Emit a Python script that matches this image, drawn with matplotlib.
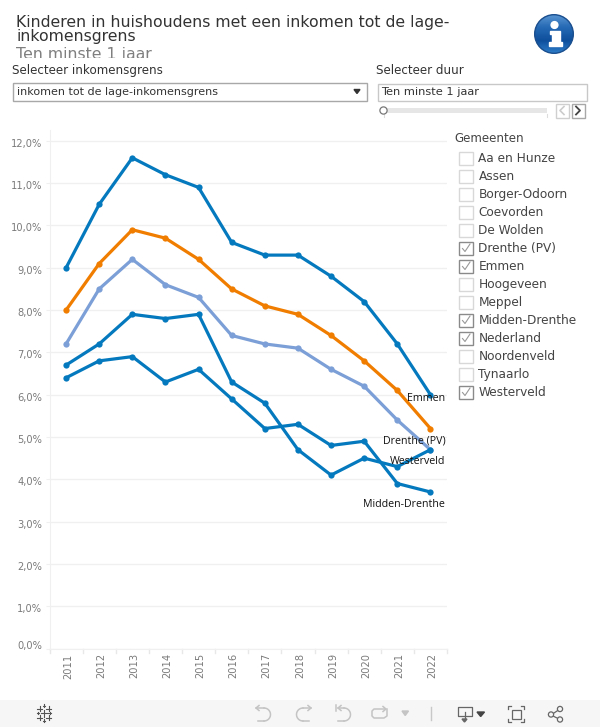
import matplotlib
matplotlib.use("Agg")
import matplotlib.pyplot as plt
from matplotlib.patches import Rectangle, Circle, Polygon
from matplotlib.colors import LinearSegmentedColormap
from matplotlib.transforms import ScaledTranslation
import numpy as np

years = ["2011", "2012", "2013", "2014", "2015", "2016", "2017", "2018", "2019", "2020", "2021", "2022"]
emmen = [9.0, 10.5, 11.6, 11.2, 10.9, 9.6, 9.3, 9.3, 8.8, 8.2, 7.2, 6.0]
drenthe = [8.0, 9.1, 9.9, 9.7, 9.2, 8.5, 8.1, 7.9, 7.4, 6.8, 6.1, 5.2]
nederland = [7.2, 8.5, 9.2, 8.6, 8.3, 7.4, 7.2, 7.1, 6.6, 6.2, 5.4, 4.7]
westerveld = [6.7, 7.2, 7.9, 7.8, 7.9, 6.3, 5.8, 4.7, 4.1, 4.5, 4.3, 4.7]
midden = [6.4, 6.8, 6.9, 6.3, 6.6, 5.9, 5.2, 5.3, 4.8, 4.9, 3.9, 3.7]
yticks = list(range(0, 13))
gemeenten = ["Aa en Hunze", "Assen", "Borger-Odoorn", "Coevorden", "De Wolden", "Drenthe (PV)", "Emmen",
             "Hoogeveen", "Meppel", "Midden-Drenthe", "Nederland", "Noordenveld", "Tynaarlo", "Westerveld"]
aangevinkt = ["Drenthe (PV)", "Emmen", "Midden-Drenthe", "Nederland", "Westerveld"]

W, H = 600, 727
BLAUW = "#0579bd"
ORANJE = "#f07d00"
LICHT = "#7b9fd6"
TEKST = "#333333"
LIJST = "#444444"
GRIJS = "#7a7a7a"

plt.rcParams["font.family"] = ["DejaVu Sans"]
fig = plt.figure(figsize=(W / 100, H / 100), dpi=100, facecolor="white")

# overlay in pixels, top-left origin
ui = fig.add_axes([0, 0, 1, 1])
ui.axis("off")

# main plot
x0, x1, ytop, ybot = 49.5, 447, 130, 648.5
ax = fig.add_axes([x0 / W, 1 - ybot / H, (x1 - x0) / W, (ybot - ytop) / H])
ax.patch.set_alpha(0)
x = np.arange(len(years))
ax.set_xlim(-0.5, 11.5)
ax.set_ylim(0, (ybot - ytop) / 42.3)
ax.set_yticks(yticks)
ax.set_yticklabels(["%d,0%%" % t for t in yticks], fontsize=7.1, color=GRIJS)
ax.set_xticks(x)
ax.set_xticklabels(years, rotation=90, fontsize=7.1, color=GRIJS)
ax.grid(axis="y", color="#f0f0f0", lw=1)
ax.set_axisbelow(True)
ax.tick_params(axis="x", length=0, pad=3.5)
ax.tick_params(axis="y", length=3, color="#f0f0f0", pad=2.4)
for s in ["top", "right"]:
    ax.spines[s].set_visible(False)
ax.spines["left"].set_color("#f0f0f0")
ax.spines["bottom"].set_color("#f0f0f0")
# year band ticks
for i in range(13):
    ax.plot([i - 0.5, i - 0.5], [0, -0.1], color="#e8e8e8", lw=1, clip_on=False)

# nudge labels like the original
for t, lab in zip(yticks, ax.get_yticklabels()):
    dy = 4 if t == 0 else -2
    lab.set_transform(lab.get_transform() + ScaledTranslation(0, dy / 100, fig.dpi_scale_trans))
for lab in ax.get_xticklabels():
    lab.set_transform(lab.get_transform() + ScaledTranslation(2 / 100, 0, fig.dpi_scale_trans))

for serie, kleur in [(nederland, LICHT), (westerveld, BLAUW), (midden, BLAUW), (drenthe, ORANJE), (emmen, BLAUW)]:
    ax.plot(x, serie, color=kleur, lw=2.3, marker="o", ms=4.5, mew=0, solid_joinstyle="round")

ax.text(11.45, 5.92, "Emmen", ha="right", va="center", fontsize=7.7, color="#111111", family="Open Sans")
ax.text(11.45, 4.90, "Drenthe (PV)", ha="right", va="center", fontsize=7.7, color="#111111", family="Open Sans")
ax.text(11.45, 4.43, "Westerveld", ha="right", va="center", fontsize=7.7, color="#111111", family="Open Sans")
ax.text(11.45, 3.41, "Midden-Drenthe", ha="right", va="center", fontsize=7.7, color="#111111", family="Open Sans")

# title block
ui.text(16, 26.5, "Kinderen in huishoudens met een inkomen tot de lage-", fontsize=11.3, color=TEKST, va="baseline")
ui.text(16, 41.5, "inkomensgrens", fontsize=11.3, color=TEKST, va="baseline")
sub = ui.text(16, 59, "Ten minste 1 jaar", fontsize=11.3, color="#7f7f7f", va="baseline")
sub.set_clip_on(True)
sub.set_clip_path(Rectangle((0, 0), W, 58, transform=ui.transData))

# info icon
blauwen = LinearSegmentedColormap.from_list("info", ["#5a96d2", "#2569b4", "#0f4f9c", "#2f7ecb"])
img = ui.imshow(np.linspace(0, 1, 64).reshape(-1, 1), cmap=blauwen, extent=(534, 574, 54, 14), aspect="auto", zorder=2)
img.set_clip_path(Circle((554, 34), 19.5, transform=ui.transData))
ui.add_patch(Circle((554, 34), 19.3, fc="none", ec="#1b4f8e", lw=1, zorder=3))
ui.add_patch(Circle((554.5, 25), 3.4, color="white", zorder=4))
ui.add_patch(Polygon([(550, 31), (559.5, 31), (559.5, 42), (562, 42), (562, 46), (549, 46), (549, 42),
                      (552, 42), (552, 34), (550, 34)], closed=True, color="white", zorder=4))
ui.set_xlim(0, W)
ui.set_ylim(H, 0)

# filters
ui.text(12.5, 74, "Selecteer inkomensgrens", fontsize=8.6, color=TEKST, va="baseline")
ui.text(376, 74, "Selecteer duur", fontsize=8.6, color=TEKST, va="baseline")
ui.add_patch(Rectangle((13, 82.5), 353.5, 18.5, fc="white", ec="#a8a8a8", lw=1))
ui.text(17, 95, "inkomen tot de lage-inkomensgrens", fontsize=8.05, color=TEKST, va="baseline")
ui.add_patch(Polygon([(354, 89.5), (360, 89.5), (357, 93.5)], closed=True, color="#333333"))
ui.add_patch(Rectangle((377.5, 83.5), 209, 17, fc="white", ec="#c8c8c8", lw=1))
ui.text(381, 95, "Ten minste 1 jaar", fontsize=8.2, color=TEKST, va="baseline")
ui.add_patch(Rectangle((383, 108), 164, 5, fc="#e6e6e6", ec="none"))
ui.add_patch(Circle((383.5, 110.5), 3.6, fc="white", ec="#777777", lw=0.9, zorder=3))
ui.plot([384, 384], [114, 117], color="#dddddd", lw=0.8)
ui.plot([547, 547], [114, 117], color="#dddddd", lw=0.8)
ui.add_patch(Rectangle((555.5, 103.5), 13, 14, fc="white", ec="#cfcfcf", lw=1))
ui.add_patch(Rectangle((571.5, 103.5), 13, 14, fc="white", ec="#a8a8a8", lw=1))
ui.plot([564, 560, 564], [106.5, 110.5, 114.5], color="#cccccc", lw=1.2)
ui.plot([576, 580, 576], [106.5, 110.5, 114.5], color="#444444", lw=1.3)

# legend checklist
ui.text(454, 141.5, "Gemeenten", fontsize=8.6, color=LIJST, va="baseline")
for i, naam in enumerate(gemeenten):
    y = 158 + i * 18
    aan = naam in aangevinkt
    ui.add_patch(Rectangle((458.5, y - 6.5), 14, 13, fc="white", ec="#8a8a8a" if aan else "#d8d8d8", lw=1))
    if aan:
        ui.plot([462.5, 465, 470], [y + 0.5, y + 3.5, y - 4], color="#999999", lw=0.8)
    ui.text(478.5, y + 4, naam, fontsize=8.7, color=LIJST, va="baseline")

# toolbar
ui.add_patch(Rectangle((0, 700), W, 27, fc="#f6f6f6", ec="none", zorder=0))
for cx, cy, r in [(44, 713, 3.5), (38, 713, 1.2), (50, 713, 1.2), (44, 705.5, 1.2), (44, 720.5, 1.2),
                  (39.5, 708.5, 2.2), (48.5, 708.5, 2.2), (39.5, 717.5, 2.2), (48.5, 717.5, 2.2)]:
    ui.plot([cx - r, cx + r], [cy, cy], color="#555555", lw=0.8)
    ui.plot([cx, cx], [cy - r, cy + r], color="#555555", lw=0.8)

LICHTIC = "#c4c4c4"
hoek = np.linspace(-np.pi / 2, np.pi / 2, 20)


def pijl_bocht(cx, kant, x_pijl):
    # half round arrow glyph of the toolbar
    ui.plot(cx + kant * 6.5 * np.cos(hoek), 714.5 + 6.5 * np.sin(hoek), color=LICHTIC, lw=1.1)
    ui.plot([cx, x_pijl], [708, 708], color=LICHTIC, lw=1.1)
    ui.plot([cx, cx - kant * 6], [721, 721], color=LICHTIC, lw=1.1)
    ui.plot([x_pijl + kant * 3, x_pijl, x_pijl + kant * 3], [705.5, 708, 710.5], color=LICHTIC, lw=1.1)


pijl_bocht(264, 1, 256)
pijl_bocht(303, -1, 311)
pijl_bocht(344, 1, 338)
ui.plot([335.5, 335.5], [705, 711], color=LICHTIC, lw=1.1)
ui.plot([385, 374, 372, 372, 374, 384, 387, 387], [709, 709, 711, 716, 718, 718, 716, 709], color=LICHTIC, lw=1.1)
ui.plot([383, 386, 383], [706.5, 709, 711.5], color=LICHTIC, lw=1.1)
ui.add_patch(Polygon([(402, 711), (408.5, 711), (405.2, 715.5)], closed=True, color=LICHTIC))
ui.plot([431, 431], [707, 720], color="#c8c8c8", lw=1)
IC = "#666666"
ui.plot([464, 457.5, 457.5, 471.5, 471.5, 465], [715.5, 715.5, 707, 707, 715.5, 715.5], color=IC, lw=0.9)
ui.plot([464.5, 464.5], [712, 720], color=IC, lw=0.9)
ui.add_patch(Polygon([(462, 719), (467, 719), (464.5, 722)], closed=True, color=IC))
ui.add_patch(Polygon([(477, 712), (484.5, 712), (480.7, 716.5)], closed=True, color="#444444"))
ui.add_patch(Rectangle((512, 709.5), 9, 9, fc="none", ec=IC, lw=0.9))
for a, b in [(508, 706), (524, 706), (508, 722), (524, 722)]:
    d = 3 if a == 508 else -3
    e = 3 if b == 706 else -3
    ui.plot([a + d, a, a], [b, b, b + e], color=IC, lw=0.9)
ui.plot([560, 551, 560], [709, 715, 719.5], color=IC, lw=0.9)
for c in [(560, 709), (551, 714.5), (560, 719.5)]:
    ui.add_patch(Circle(c, 2.6, fc="#f6f6f6", ec=IC, lw=0.9, zorder=3))

fig.savefig("out.png", dpi=100)
